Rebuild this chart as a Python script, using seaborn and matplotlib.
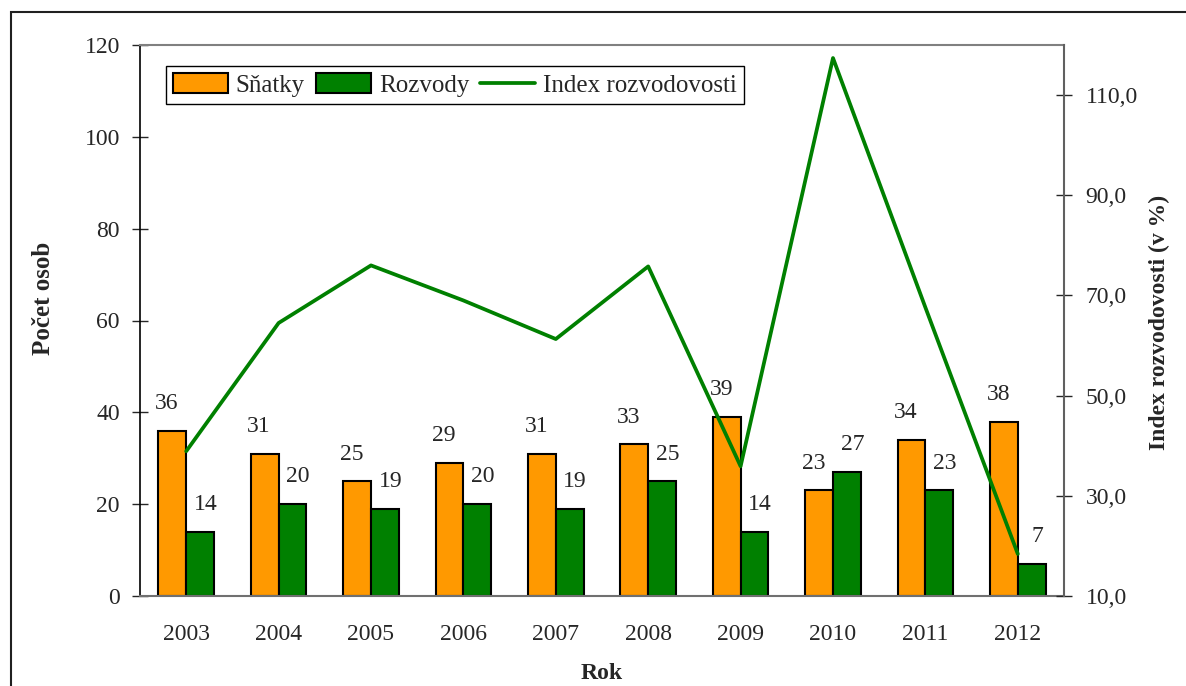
import numpy as np
import pandas as pd
import matplotlib
matplotlib.use("Agg")
import matplotlib.pyplot as plt
from matplotlib.patches import Rectangle, Patch
from matplotlib.lines import Line2D
from matplotlib.ticker import FuncFormatter
import seaborn as sns

# Data
roky = ['2003', '2004', '2005', '2006', '2007', '2008', '2009', '2010', '2011', '2012']
snatky = [36, 31, 25, 29, 31, 33, 39, 23, 34, 38]
rozvody = [14, 20, 19, 20, 19, 25, 14, 27, 23, 7]
index_rozv = [38.9, 64.5, 76.0, 69.0, 61.3, 75.8, 35.9, 117.4, 67.6, 18.4]

ORANZ = '#FF9900'
ZELENA = '#008000'

sns.set_style("white")
plt.rcParams['font.family'] = ['Liberation Serif', 'DejaVu Serif']

df = pd.DataFrame({
    'rok': roky * 2,
    'pocet': snatky + rozvody,
    'typ': ['Sňatky'] * len(roky) + ['Rozvody'] * len(roky),
})

fig = plt.figure(figsize=(11.86, 6.86), dpi=100)
ax = fig.add_axes([140 / 1186, 1 - 596 / 686, 924 / 1186, 551 / 686])

sns.barplot(data=df, x='rok', y='pocet', hue='typ',
            palette={'Sňatky': ORANZ, 'Rozvody': ZELENA},
            width=0.6, edgecolor='black', linewidth=1.5, saturation=1,
            ax=ax, legend=False)

ax.set_xlim(-0.5, len(roky) - 0.5)
ax.set_ylim(0, 120)
ax.set_yticks(range(0, 121, 20))
ax.set_xticks(np.arange(-0.5, len(roky)), labels=[])
ax.set_xticks(np.arange(len(roky)), labels=roky, minor=True)
ax.tick_params(axis='x', which='major', direction='inout', length=11, width=1, color='#404040')
ax.tick_params(axis='x', which='minor', length=0, pad=20, labelsize=17)
ax.tick_params(axis='y', direction='inout', length=11, width=1, pad=9, labelsize=17, left=True)

# popisky hodnot
for kont, dx in zip(ax.containers, [-4, 4]):
    for bar in kont:
        h = bar.get_height()
        ax.annotate(f"{h:.0f}", (bar.get_x() + bar.get_width() / 2, h),
                    xytext=(dx, 12), textcoords='offset points',
                    ha='center', va='bottom', fontsize=17)

ax.set_xlabel('Rok', fontsize=17, fontweight='bold')
ax.set_ylabel('Počet osob', fontsize=18, fontweight='bold')
ax.xaxis.set_label_coords(0.5, -0.122)
ax.yaxis.set_label_coords(-0.092, 0.541)

ax.spines['left'].set_color('black')
ax.spines['left'].set_linewidth(1.2)
ax.spines['bottom'].set_color('#707070')
ax.spines['bottom'].set_linewidth(1.5)
ax.spines['top'].set_color('#808080')
ax.spines['top'].set_linewidth(1.5)
ax.spines['right'].set_visible(False)

# index na pravé ose
ax2 = ax.twinx()
sns.lineplot(x=np.arange(len(roky)), y=index_rozv, ax=ax2, color=ZELENA, linewidth=2.7)
ax2.set_ylim(10, 120)
ax2.set_yticks(range(10, 111, 20))
ax2.yaxis.set_major_formatter(FuncFormatter(lambda v, p: f"{v:.1f}".replace('.', ',')))
ax2.tick_params(axis='y', direction='inout', length=11, width=1, pad=10, labelsize=17, right=True)
ax2.set_ylabel('Index rozvodovosti (v %)', fontsize=17, fontweight='bold')
ax2.yaxis.set_label_coords(1.092, 0.497)
for s in ['top', 'left', 'bottom']:
    ax2.spines[s].set_visible(False)
ax2.spines['right'].set_color('#606060')
ax2.spines['right'].set_linewidth(1.5)

handles = [
    Patch(facecolor=ORANZ, edgecolor='black', linewidth=1.5, label='Sňatky'),
    Patch(facecolor=ZELENA, edgecolor='black', linewidth=1.5, label='Rozvody'),
    Line2D([], [], color=ZELENA, linewidth=2.7, label='Index rozvodovosti'),
]
leg = ax2.legend(handles=handles, loc='upper left', bbox_to_anchor=(0.028, 0.962),
                 ncol=3, frameon=True, fancybox=False, edgecolor='black', framealpha=1,
                 fontsize=18, handlelength=2.2, handleheight=0.8, handletextpad=0.3,
                 columnspacing=0.45, borderpad=0.3, borderaxespad=0)
leg.get_frame().set_linewidth(1)

# rámeček kolem grafu
fig.add_artist(Rectangle((11 / 1186, -0.1), 1.2, 1 - 12 / 686 + 0.1,
                         transform=fig.transFigure, fill=False,
                         edgecolor='#202020', linewidth=1.5))

fig.savefig('out.png', dpi=100)
